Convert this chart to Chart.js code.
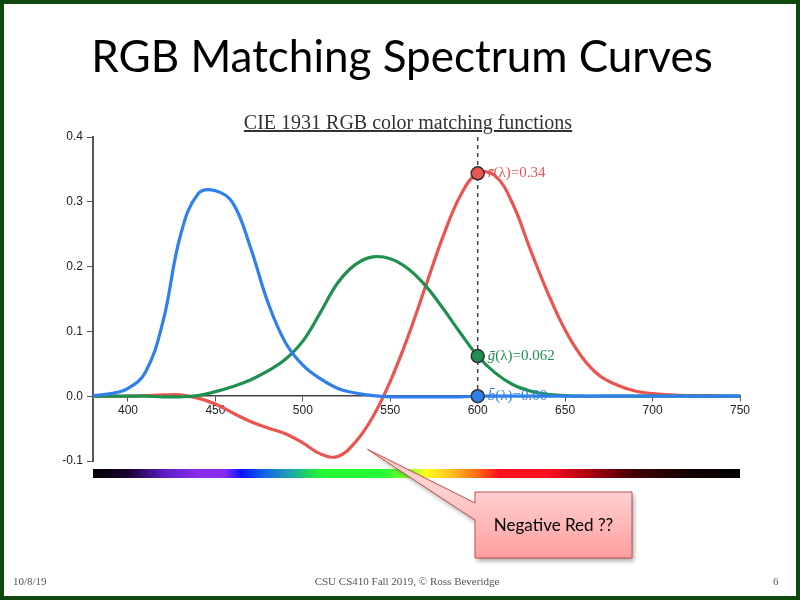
<!DOCTYPE html>
<html>
<head>
<meta charset="utf-8">
<script src="https://cdn.jsdelivr.net/npm/chart.js@4"></script>
<style>
html, body { margin: 0; padding: 0; background: #fff; }
#slide { position: relative; width: 800px; height: 600px; overflow: hidden; background: #fff; }
#chart { position: absolute; left: 0; top: 0; }
#frame { position: absolute; left: 0; top: 0; width: 800px; height: 600px; box-sizing: border-box;
         border: 4px solid #0e4a0e; pointer-events: none; }
.title { position: absolute; left: 0; width: 804px; top: 29px; text-align: center;
         font-family: Lato, sans-serif; font-size: 44px; color: #000; }
.subtitle { position: absolute; left: 0; width: 816px; top: 111px; text-align: center;
            font-family: "Liberation Serif", serif; font-size: 20px; color: #333; text-decoration: underline; }
.foot { position: absolute; top: 575px; font-family: "Liberation Serif", serif; font-size: 11px; color: #555; }
</style>
</head>
<body>
<div id="slide">
  <canvas id="chart" width="800" height="600"></canvas>
  <div class="title">RGB Matching Spectrum Curves</div>
  <div class="subtitle">CIE 1931 RGB color matching functions</div>
  <div class="foot" style="left:13px">10/8/19</div>
  <div class="foot" style="left:0;width:814px;text-align:center">CSU CS410 Fall 2019, © Ross Beveridge</div>
  <div class="foot" style="left:773px">6</div>
  <div id="frame"></div>
</div>
<script>
// ======= data =======
const wavelengths = [380, 390, 400, 410, 420, 430, 440, 450, 460, 470, 480, 490, 500, 510, 520, 530, 540, 550,
                     560, 570, 580, 590, 600, 610, 620, 630, 640, 650, 660, 670, 680, 690, 700, 710, 720, 730, 740, 750];
const rBar = [0.000, 0.000, 0.000, 0.001, 0.002, 0.002, -0.003, -0.012, -0.026, -0.039, -0.049, -0.058, -0.072, -0.089,
              -0.093, -0.071, -0.032, 0.023, 0.091, 0.168, 0.245, 0.309, 0.344, 0.340, 0.297, 0.227, 0.160, 0.102,
              0.059, 0.031, 0.017, 0.008, 0.004, 0.002, 0.001, 0.001, 0.000, 0.000];
const gBar = [0.000, 0.000, 0.000, 0.000, -0.001, -0.001, 0.001, 0.007, 0.015, 0.025, 0.039, 0.057, 0.085, 0.129,
              0.175, 0.203, 0.215, 0.212, 0.197, 0.171, 0.136, 0.098, 0.062, 0.036, 0.018, 0.008, 0.003, 0.001,
              0.000, 0.000, 0.000, 0.000, 0.000, 0.000, 0.000, 0.000, 0.000, 0.000];
const bBar = [0.001, 0.004, 0.012, 0.037, 0.115, 0.248, 0.312, 0.317, 0.298, 0.230, 0.145, 0.083, 0.048, 0.027,
              0.012, 0.005, 0.001, -0.001, -0.001, -0.001, -0.001, -0.001, 0.000, 0.000, 0.000, 0.000, 0.000, 0.000,
              0.000, 0.000, 0.000, 0.000, 0.000, 0.000, 0.000, 0.000, 0.000, 0.000];

const xTicks = [400, 450, 500, 550, 600, 650, 700, 750];
const yTicks = [-0.1, 0.0, 0.1, 0.2, 0.3, 0.4];

// readout at 600 nm
const markerWavelength = 600;
const markerNames = ["r̄", "ḡ", "b̄"];
const markerValues = [0.344, 0.062, 0.0];
const markerTexts = ["0.34", "0.062", "0.00"];

// spectrum strip under the plot
const spectrumNm = [380, 400, 420, 440, 455, 465, 478, 492, 505, 512, 545, 560, 570, 585, 600, 612, 640, 662, 690, 720, 750];
const spectrumColors = ["#000000", "#1a0030", "#5a1cc0", "#8a2cf0", "#8a2cf0", "#0a14ff", "#1064e8", "#1ea0b4",
                        "#20e050", "#22ff33", "#22ff33", "#80ff30", "#ffff20", "#ffc020", "#ff6a10", "#ff1020",
                        "#ff1020", "#b00010", "#400004", "#140000", "#000000"];

const calloutText = "Negative Red ??";
const calloutTarget = [537, -0.082];

const RED = "#ea5550", GREEN = "#1f9050", BLUE = "#2f80ec";
const markerColors = [RED, GREEN, BLUE];

function series(values) {
    return wavelengths.map((w, i) => ({ x: w, y: values[i] }));
}

// dashed guide, spectrum strip, readout labels, callout
const overlayPlugin = {
    id: "overlay",
    beforeDatasetsDraw(chart) {
        const { ctx, scales: { x, y } } = chart;
        const px = x.getPixelForValue(markerWavelength);
        ctx.save();
        ctx.setLineDash([4, 4]);
        ctx.strokeStyle = "#444";
        ctx.lineWidth = 1.5;
        ctx.beginPath();
        ctx.moveTo(px, y.getPixelForValue(0.4));
        ctx.lineTo(px, y.getPixelForValue(0));
        ctx.stroke();
        ctx.restore();
    },
    afterDatasetsDraw(chart) {
        const { ctx } = chart;
        const meta = chart.getDatasetMeta(3);
        ctx.save();
        ctx.textBaseline = "middle";
        meta.data.forEach((pt, i) => {
            let tx = pt.x + 10;
            ctx.fillStyle = markerColors[i];
            ctx.font = "italic 15px 'Liberation Serif'";
            ctx.fillText(markerNames[i], tx, pt.y);
            tx += ctx.measureText(markerNames[i]).width;
            ctx.font = "15px 'Liberation Serif'";
            ctx.fillText("(λ)=" + markerTexts[i], tx, pt.y);
        });
        ctx.restore();
    },
    afterDraw(chart) {
        const { ctx, chartArea, scales: { x, y } } = chart;
        // spectrum strip
        const left = chartArea.left, right = chartArea.right;
        const grad = ctx.createLinearGradient(left, 0, right, 0);
        spectrumNm.forEach((nm, i) => {
            grad.addColorStop((x.getPixelForValue(nm) - left) / (right - left), spectrumColors[i]);
        });
        ctx.save();
        ctx.fillStyle = grad;
        ctx.fillRect(left, chartArea.bottom + 8, right - left, 9);

        // callout box with wedge
        const tipX = x.getPixelForValue(calloutTarget[0]);
        const tipY = y.getPixelForValue(calloutTarget[1]);
        const bx = 475, by = 492, bw = 157, bh = 66;
        const path = new Path2D();
        path.moveTo(bx, by);
        path.lineTo(bx + bw, by);
        path.lineTo(bx + bw, by + bh);
        path.lineTo(bx, by + bh);
        path.lineTo(bx, by + 28);
        path.lineTo(tipX, tipY);
        path.lineTo(bx, by + 11);
        path.closePath();
        const fill = ctx.createLinearGradient(0, by, 0, by + bh);
        fill.addColorStop(0, "#ffd0d0");
        fill.addColorStop(1, "#ff9e9e");
        ctx.shadowColor = "rgba(0,0,0,0.35)";
        ctx.shadowOffsetX = 2;
        ctx.shadowOffsetY = 3;
        ctx.shadowBlur = 4;
        ctx.fillStyle = fill;
        ctx.fill(path);
        ctx.shadowColor = "transparent";
        ctx.strokeStyle = "#c0504d";
        ctx.lineWidth = 1;
        ctx.stroke(path);
        ctx.fillStyle = "#000";
        ctx.font = "17px Lato";
        ctx.textAlign = "center";
        ctx.textBaseline = "middle";
        ctx.fillText(calloutText, bx + bw / 2, by + bh / 2 + 1);
        ctx.restore();
    }
};

const curveStyle = { borderWidth: 3.2, pointRadius: 0, tension: 0.4 };

new Chart(document.getElementById("chart"), {
    type: "line",
    data: {
        datasets: [
            { label: "b", data: series(bBar), borderColor: BLUE, ...curveStyle },
            { label: "g", data: series(gBar), borderColor: GREEN, ...curveStyle },
            { label: "r", data: series(rBar), borderColor: RED, ...curveStyle },
            {
                label: "readout",
                data: markerValues.map(v => ({ x: markerWavelength, y: v })),
                showLine: false,
                pointRadius: 6.5,
                pointBackgroundColor: markerColors,
                pointBorderColor: "#333",
                pointBorderWidth: 1.5,
                order: -1
            }
        ]
    },
    options: {
        responsive: false,
        animation: false,
        layout: { padding: { left: 0, top: 137, right: 60, bottom: 139 } },
        plugins: { legend: { display: false }, tooltip: { enabled: false } },
        scales: {
            x: {
                type: "linear",
                position: { y: 0 },
                min: 380,
                max: 750,
                afterBuildTicks: s => { s.ticks = xTicks.map(v => ({ value: v })); },
                grid: { drawOnChartArea: false, drawTicks: true, tickLength: 5, color: "#555" },
                border: { display: true, color: "#444", width: 1.5 },
                ticks: { color: "#222", font: { family: "Liberation Sans", size: 12 }, padding: 2, maxRotation: 0 }
            },
            y: {
                type: "linear",
                position: "left",
                min: -0.1,
                max: 0.4,
                afterBuildTicks: s => { s.ticks = yTicks.map(v => ({ value: v })); },
                afterFit: s => { s.width = 93; },
                grid: { drawOnChartArea: false, drawTicks: true, tickLength: 6, color: "#555" },
                border: { display: true, color: "#555", width: 2 },
                ticks: {
                    color: "#222",
                    font: { family: "Liberation Sans", size: 12 },
                    padding: 4,
                    callback: v => v.toFixed(1)
                }
            }
        }
    },
    plugins: [overlayPlugin]
});
</script>
</body>
</html>
